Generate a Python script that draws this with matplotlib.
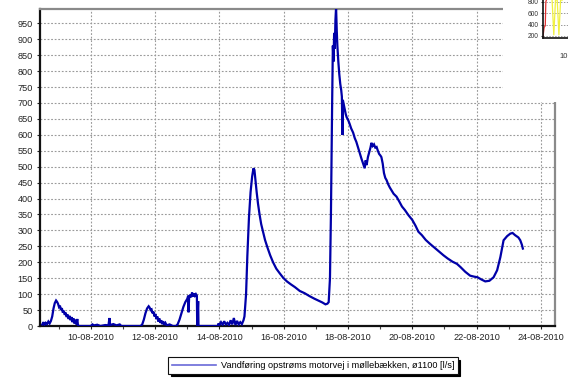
import numpy as np
import matplotlib
matplotlib.use("Agg")
import matplotlib.pyplot as plt
import matplotlib.dates as mdates
from matplotlib.lines import Line2D
from matplotlib.patches import Rectangle

# ---------------- data (days after 2010-08-10 00:00, flow l/s) ----------------
base_date = "2010-08-10T00:00"
days = [
    -1.51, -1.47, -1.44, -1.40, -1.36, -1.32, -1.28, -1.24, -1.20, -1.16, -1.12, -1.08,
    -1.05, -1.02, -0.99, -0.96, -0.93, -0.90, -0.87, -0.84, -0.81, -0.78, -0.75, -0.72,
    -0.69, -0.66, -0.63, -0.60, -0.57, -0.54, -0.51, -0.48, -0.45, -0.42, -0.40, -0.37,
    -0.30, 0.00, 0.05, 0.10, 0.20, 0.30, 0.45, 0.55, 0.58, 0.60, 0.70, 0.80, 0.90, 0.95, 1.55,
    1.60, 1.65, 1.70, 1.75, 1.80, 1.83, 1.86, 1.89, 1.92, 1.95, 1.98, 2.01, 2.04, 2.07,
    2.10, 2.13, 2.16, 2.19, 2.22, 2.25, 2.28, 2.32, 2.36, 2.45, 2.55, 2.65,
    2.70, 2.76, 2.82, 2.88, 2.94, 3.00, 3.03, 3.04, 3.06, 3.09, 3.12, 3.15, 3.18, 3.21,
    3.24, 3.27, 3.30, 3.31, 3.34, 3.35,
    3.95, 3.97, 4.00, 4.05, 4.10, 4.15, 4.20, 4.25, 4.30, 4.35, 4.40, 4.45, 4.50, 4.55,
    4.60, 4.65, 4.70, 4.75,
    4.78, 4.83, 4.87, 4.92, 4.97, 5.02, 5.06, 5.09, 5.12, 5.16, 5.20, 5.25, 5.30, 5.36,
    5.42, 5.50, 5.58, 5.67, 5.77, 5.88, 5.98, 6.10, 6.22, 6.35, 6.50, 6.65, 6.80, 6.95,
    7.10, 7.20, 7.30, 7.36,
    7.40, 7.44, 7.47, 7.49, 7.51, 7.53, 7.55, 7.57, 7.59, 7.61, 7.63, 7.65, 7.67, 7.70,
    7.73, 7.76, 7.79, 7.81, 7.83, 7.84, 7.87, 7.90, 7.93, 7.96, 8.00, 8.05, 8.10, 8.16,
    8.21, 8.26, 8.31, 8.36, 8.42, 8.47, 8.50, 8.52, 8.55, 8.58, 8.62, 8.66, 8.70, 8.73,
    8.77, 8.81, 8.85, 8.89, 8.93, 8.97, 9.01, 9.04, 9.08, 9.12, 9.16, 9.20, 9.25, 9.30,
    9.36, 9.42, 9.51, 9.60, 9.68, 9.77, 9.88, 10.00, 10.10, 10.19, 10.30, 10.42, 10.55,
    10.70, 10.85, 10.97, 11.10, 11.25, 11.39, 11.50, 11.65, 11.80, 11.92, 12.03, 12.15,
    12.27, 12.40, 12.53, 12.64, 12.74, 12.84, 12.95, 13.05, 13.12, 13.20, 13.30, 13.36,
    13.41, 13.44,
]
flow = [
    5, 12, 4, 10, 6, 14, 8, 16, 30, 55, 72, 80,
    76, 70, 60, 64, 50, 56, 42, 48, 35, 42, 28, 36,
    22, 32, 18, 28, 12, 24, 8, 20, 5, 22, 3, 0,
    0, 0, 5, 2, 4, 0, 3, 2, 25, 3, 6, 2, 5, 0, 0,
    5, 20, 40, 55, 62, 58, 50, 52, 40, 45, 30, 38, 22, 30,
    14, 24, 10, 18, 6, 15, 4, 10, 2, 5, 0, 0,
    5, 20, 40, 60, 75, 85, 95, 43, 92, 98, 90, 105, 92, 102,
    95, 100, 95, 0, 78, 0,
    0, 8, 3, 12, 4, 15, 5, 10, 3, 18, 5, 25, 3, 16,
    5, 12, 6, 18,
    30, 100, 220, 340, 420, 470, 495, 490, 460, 420, 385, 350, 320, 295,
    270, 245, 222, 200, 180, 165, 152, 140, 131, 122, 110, 103, 94, 86,
    79, 74, 68, 70,
    75, 150, 350, 550, 720, 880, 830, 920, 870, 960, 1000, 930, 880, 830,
    790, 760, 740, 720, 600, 710, 695, 680, 665, 655, 648, 635, 620, 607,
    590, 578, 562, 545, 525, 510, 500, 495, 520, 505, 530, 545, 560, 575,
    565, 570, 560, 562, 550, 540, 535, 530, 510, 480, 465, 458, 445, 435,
    425, 415, 406, 390, 375, 364, 348, 333, 315, 296, 285, 270, 258,
    245, 232, 222, 212, 202, 195, 185, 170, 158, 155, 153, 146,
    140, 142, 153, 175, 216, 269, 282, 290, 292, 285, 278, 269,
    255, 243,
]
y_ticks = list(range(0, 951, 50))
legend_label = "Vandføring opstrøms motorvej i møllebækken, ø1100 [l/s]"

# small overlapping window (top-right corner of the screenshot)
mini_x = [0.000, 0.010, 0.020, 0.025, 0.030, 0.080, 0.095, 0.110, 0.125, 0.140, 0.155, 0.170]
mini_red = [190, 350, 380, 800, 830, np.nan, np.nan, np.nan, np.nan, np.nan, np.nan, np.nan]
mini_yellow = [np.nan, np.nan, np.nan, np.nan, np.nan, 830, 220, 830, 830, 220, 830, 830]
mini_ticks = [200, 400, 600, 800]
mini_xlabel = "10"

# ---------------- figure ----------------
plt.rcParams['font.family'] = ['Liberation Sans', 'DejaVu Sans']
W, H = 568, 383
fig = plt.figure(figsize=(W / 100, H / 100), dpi=100)
fig.patch.set_facecolor('white')

def fx(px):
    return px / W

def fy(py):
    return 1 - py / H

ax = fig.add_axes([fx(40), fy(326), fx(555) - fx(40), fy(9) - fy(326)])

t0 = np.datetime64(base_date)
times = t0 + (np.array(days) * 86400).round().astype('timedelta64[s]')
ax.plot(times.astype('datetime64[ms]').astype(object), flow, color='#0000a8', lw=1.6,
        solid_joinstyle='miter', zorder=3)

xmin = t0 + np.timedelta64(int(-1.58 * 86400), 's')
xmax = t0 + np.timedelta64(int(14.44 * 86400), 's')
ax.set_xlim(xmin.astype('datetime64[ms]').astype(object), xmax.astype('datetime64[ms]').astype(object))
ax.set_ylim(0, 995)

ax.xaxis.set_major_locator(mdates.DayLocator(bymonthday=range(10, 25, 2)))
ax.xaxis.set_minor_locator(mdates.DayLocator())
ax.xaxis.set_major_formatter(mdates.DateFormatter('%d-%m-%Y'))
ax.set_yticks(y_ticks)

ax.tick_params(axis='both', which='major', direction='out', length=2.5, width=0.8,
               labelsize=6.6, pad=2.5, colors='#222222', labelcolor='#222222')
ax.tick_params(axis='x', which='minor', direction='out', length=2.5, width=0.8, colors='#444444')

ax.grid(True, which='major', axis='both', color='#9a9a9a', linestyle=(0, (1.6, 1.6)), lw=0.8)
ax.set_axisbelow(True)

for side in ['left', 'bottom']:
    ax.spines[side].set_color('#111111')
    ax.spines[side].set_linewidth(1.6)
for side in ['top', 'right']:
    ax.spines[side].set_color('#8a8a8a')
    ax.spines[side].set_linewidth(1.6)

# legend below the plot
handle = Line2D([0], [0], color='#6a6ad8', lw=1.2)
leg = fig.legend([handle], [legend_label], loc='center', bbox_to_anchor=(fx(313), fy(365.5)),
                 frameon=True, fancybox=False, fontsize=6.6, handlelength=4.8,
                 borderpad=0.4, handletextpad=0.5,
                 shadow={'color': 'black', 'alpha': 1.0})
leg.get_frame().set_edgecolor('#111111')
leg.get_frame().set_linewidth(0.8)

# overlapping window in the corner
fig.patches.append(Rectangle((fx(503), fy(102)), 1 - fx(503), fy(0) - fy(102),
                             transform=fig.transFigure, facecolor='white',
                             edgecolor='none', zorder=5))
mini = fig.add_axes([fx(543), fy(37.7), 0.2, fy(0) - fy(37.7)], zorder=6)
mini.set_facecolor('white')
mini.plot(mini_x, mini_red, color='#e03030', lw=0.9)
mini.plot(mini_x, mini_yellow, color='#f0f040', lw=0.9)
mini.set_xlim(0, 1)
mini.set_ylim(170, 830)
mini.set_yticks(mini_ticks)
mini.set_xticks([])
mini.grid(True, axis='y', color='#9a9a9a', linestyle=(0, (1.5, 1.5)), lw=0.7)
mini.tick_params(axis='y', labelsize=4.8, length=1.5, pad=1.5, colors='#333333')
for side in ['left', 'bottom']:
    mini.spines[side].set_color('#111111')
    mini.spines[side].set_linewidth(1.2)
for side in ['top', 'right']:
    mini.spines[side].set_visible(False)
fig.text(fx(559), fy(57), mini_xlabel, fontsize=5.5, ha='left', va='center', color='#333333',
         zorder=7)

fig.savefig('out.png', dpi=100, facecolor='white')
